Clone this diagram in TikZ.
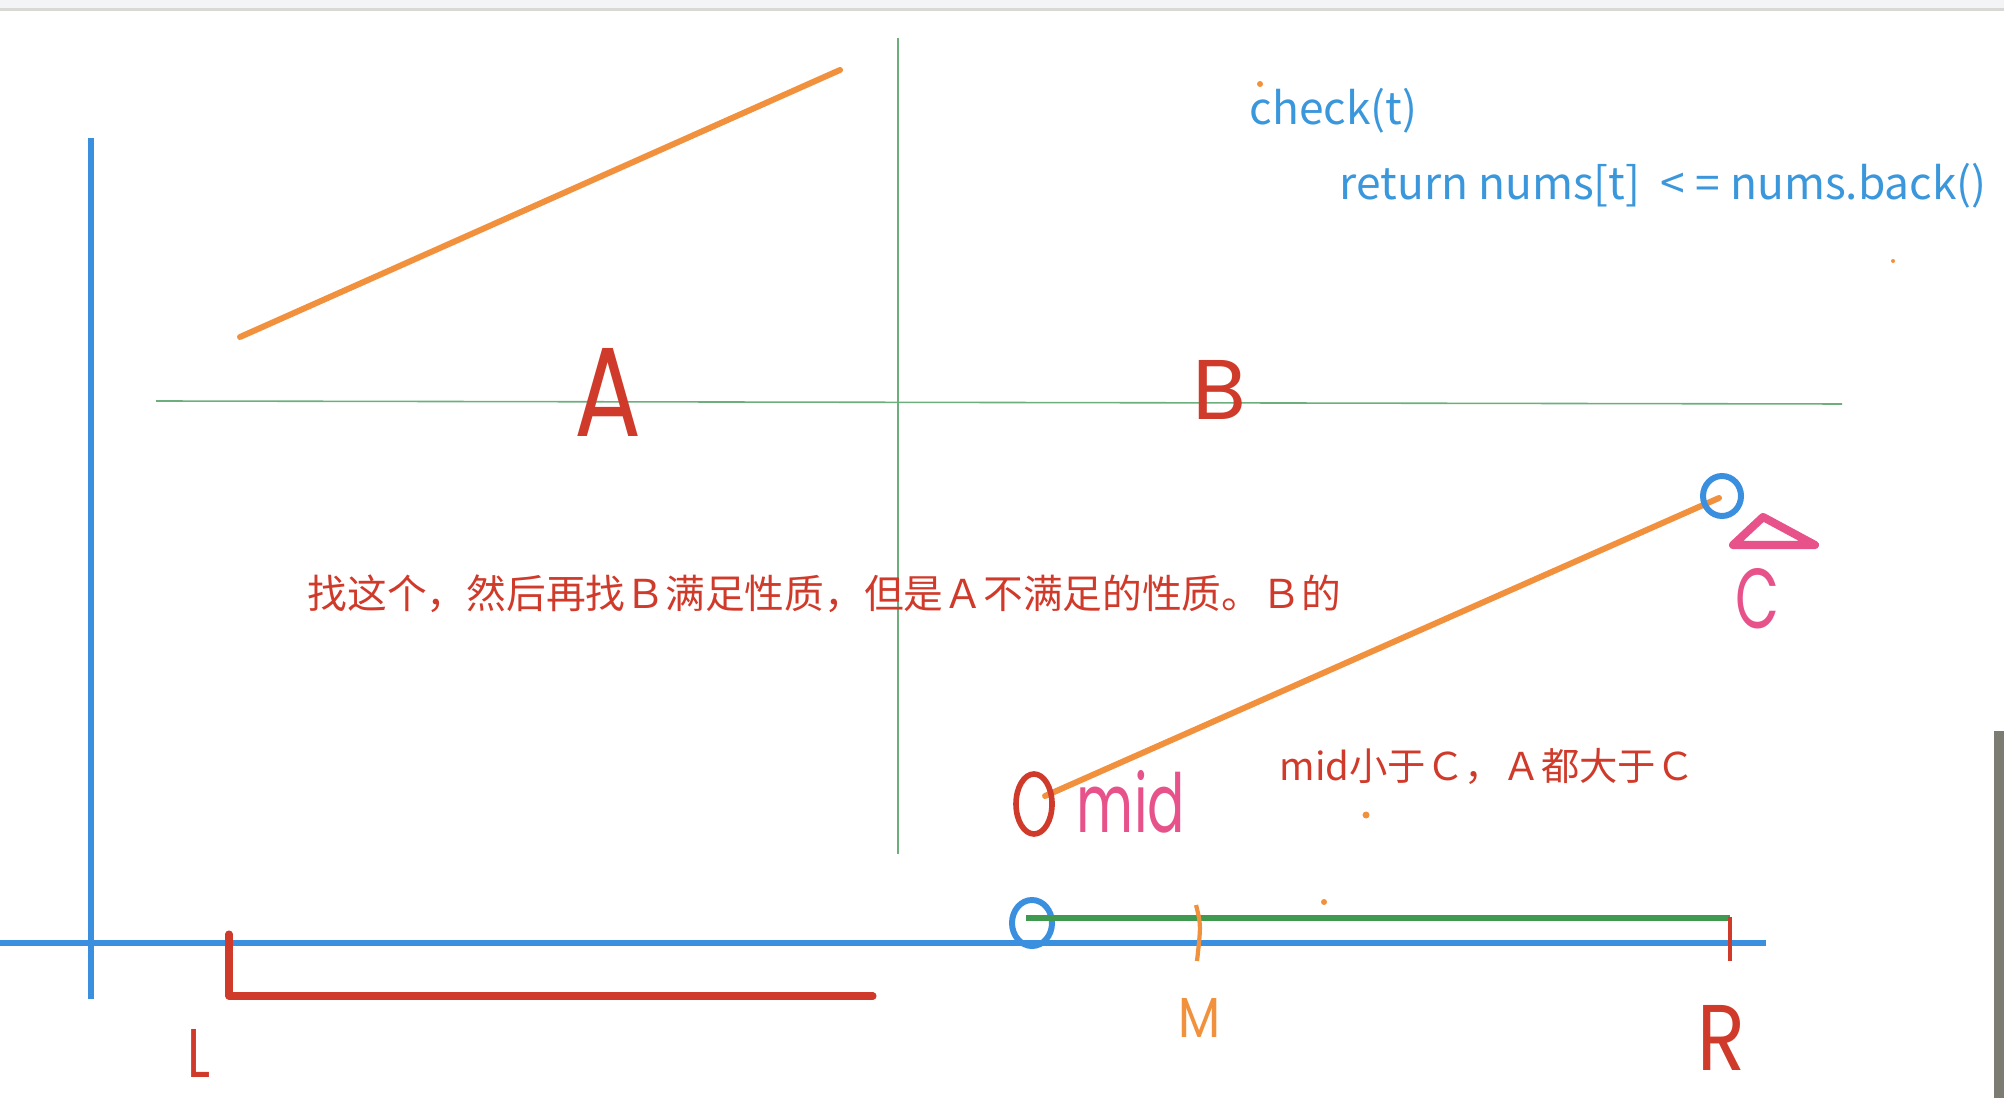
\documentclass[tikz,border=0pt]{standalone}
\usepackage{fontspec}
\setmainfont{Noto Sans CJK SC}
\newfontfamily\mano{Poppins}
\usetikzlibrary{positioning,calc}
\definecolor{azul}{HTML}{3A8FDE}
\definecolor{azultexto}{HTML}{3B97DC}
\definecolor{naranja}{HTML}{F2913D}
\definecolor{verde}{HTML}{6DAF7C}
\definecolor{verdeo}{HTML}{3F9A50}
\definecolor{rojo}{HTML}{D03A2A}
\definecolor{rosa}{HTML}{E8528B}
\definecolor{gris}{HTML}{7C7C72}
\definecolor{barra}{HTML}{F3F4F6}

\begin{document}
\begin{tikzpicture}[x=0.01cm,y=-0.01cm,
    eje/.style={azul,line width=1.9pt},
    trazo/.style={naranja,line width=1.7pt,line cap=round},
    guia/.style={verde,line width=0.45pt},
    marca/.style={line width=2pt,line cap=round,line join=round},
    letra/.style={inner sep=0pt,font=\mano},
    texto/.style={inner sep=0pt,anchor=base west,font=\fontsize{11.3pt}{13pt}\selectfont},
    codigo/.style={inner sep=0pt,anchor=base west,azultexto,font=\fontsize{12.6pt}{15pt}\selectfont}]
  \useasboundingbox (0,0) rectangle (2004,1098);
  % barra de arriba
  \fill[barra] (0,0) rectangle (2004,9);
  \draw[line width=0.6pt,gris!30] (0,9.5) -- (2004,9.5);
  \fill[gris] (1994,731) rectangle (2004,1098);

  % ejes
  \coordinate (ytop) at (91,138);
  \coordinate (ybot) at (91,999);
  \coordinate (xizq) at (0,943);
  \coordinate (xder) at (1766,943);
  \draw[eje] (ybot) -- (ytop);
  \draw[eje] (xizq) -- (xder);

  % guias verdes
  \coordinate (g1) at (156,401);
  \coordinate (g2) at (1842,404);
  \coordinate (g3) at (898,38);
  \coordinate (g4) at (898,854);
  \draw[guia] (g1) -- (g2);
  \draw[guia] (g3) -- (g4);

  % tramos naranjas
  \coordinate (a1) at (240,337);
  \coordinate (a2) at (840,70);
  \coordinate (b1) at (1045,796);
  \coordinate (b2) at (1719,498);
  \draw[trazo] (a1) -- (a2);
  \draw[trazo] (b1) -- (b2);

  % circulos
  \draw[azul,line width=1.7pt] (b2) ++(3,-2) ellipse [x radius=19,y radius=20];
  \draw[rojo,line width=1.6pt] (1034,804) ellipse [x radius=18,y radius=30];
  \draw[azul,line width=1.7pt] (1032,923) ellipse [x radius=20,y radius=23];

  % rango de abajo
  \draw[rojo,marca] (229,934) -- (229,996) -- (873,996);
  \draw[verdeo,line width=1.8pt] (1026,918) -- (1730,918);
  \draw[rojo,line width=1.2pt] (1730,917) -- (1730,961);
  \draw[naranja,line width=1.2pt] (1196,905) .. controls (1201,925) .. (1197,961);

  % puntitos
  \fill[naranja] (1260,84) circle [radius=3];
  \fill[naranja] (1366,815) circle [radius=3.5];
  \fill[naranja] (1324,902) circle [radius=3];
  \fill[naranja] (1893,261) circle [radius=2];

  % gorro de C
  \draw[rosa,marca,line width=2.3pt] (1733,545) -- (1763,517) -- (1815,545) -- cycle;

  % letras a mano
  \node[letra,rojo] (A) at (608,392) {\resizebox{0.67cm}{0.88cm}{A}};
  \node[letra,rojo] (B) at (1219,390) {\resizebox{0.54cm}{0.59cm}{B}};
  \node[letra,rosa] (C) at (1757,599) {\resizebox{0.44cm}{0.60cm}{C}};
  \node[letra,rojo] (L) at (199,1053) {\resizebox{0.23cm}{0.48cm}{L}};
  \node[letra,naranja] (M) at (1199,1018) {\resizebox{0.42cm}{0.39cm}{M}};
  \node[letra,rojo] (R) at (1721,1038) {\resizebox{0.48cm}{0.65cm}{R}};
  \node[letra,rosa] (mid) at (1131,802) {\resizebox{1.08cm}{0.62cm}{mid}};

  % textos
  \node[codigo] (chk) at (1249,125) {check(t)};
  \node[codigo] (ret) at (1339,200) {return nums[t]\ \ <\hspace{3pt}= nums.back()};
  \node[texto,rojo] (nota1) at (307,609) {找这个，然后再找Ｂ满足性质，但是Ａ不满足的性质。Ｂ的};
  \node[texto,rojo,font=\fontsize{10.9pt}{13pt}\selectfont] (nota2) at (1279,780) {mid小于Ｃ，Ａ都大于Ｃ};
\end{tikzpicture}
\end{document}
